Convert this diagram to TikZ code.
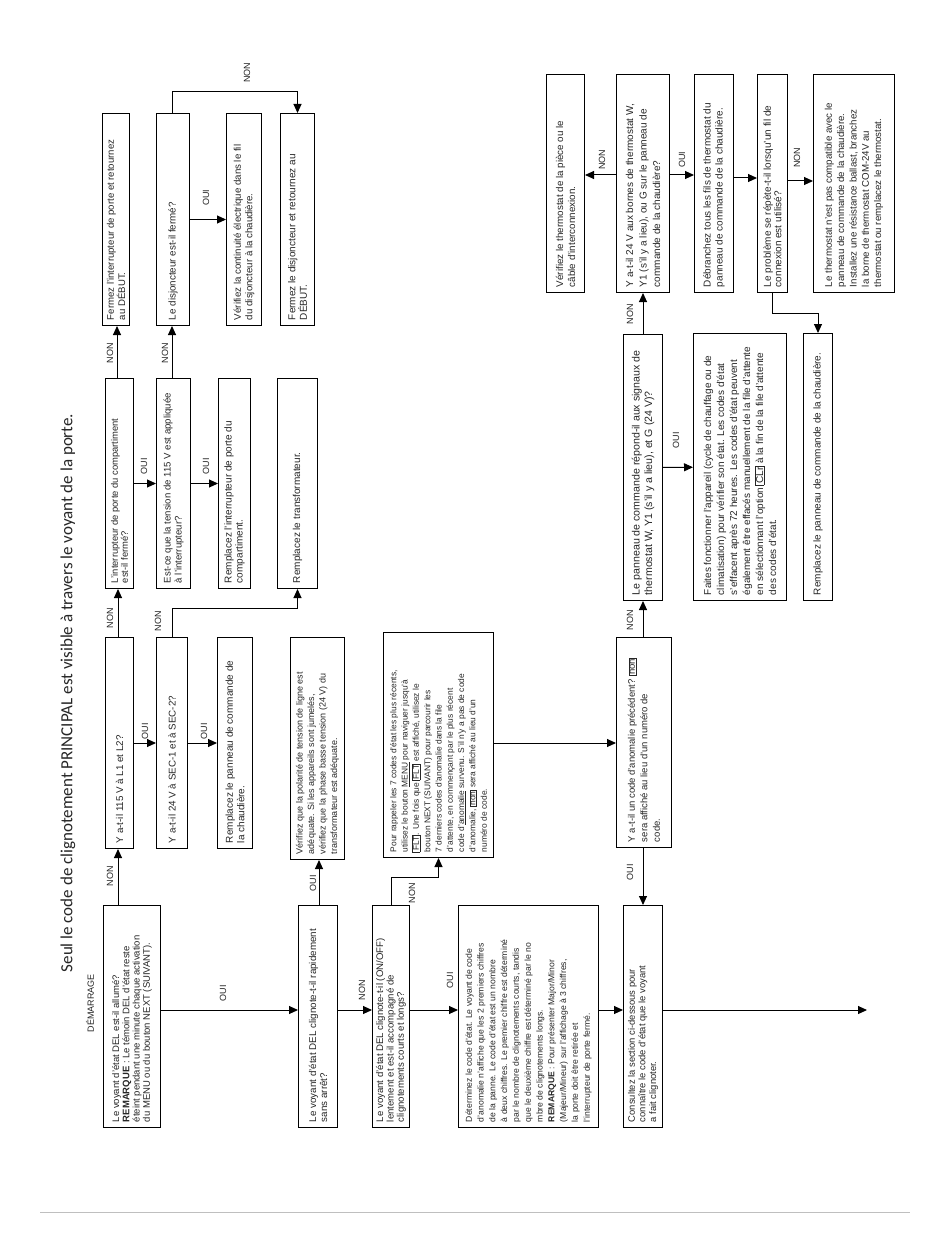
\documentclass[tikz,border=0pt]{standalone}
\usepackage{fontspec}
\setmainfont{Liberation Sans}
\newfontfamily\titlefont{Carlito}
\usetikzlibrary{arrows.meta}
\newcommand{\fl}[1]{{\setlength{\fboxsep}{0.8pt}\setlength{\fboxrule}{0.4pt}\fbox{#1}}}
\newcommand{\fsz}[2]{\fontsize{#1}{#2}\selectfont}
\newcommand{\bx}[7][]{%
  \pgfmathsetmacro{\bxW}{#5-#3}%
  \pgfmathsetmacro{\bxH}{#6-#4}%
  \pgfmathsetmacro{\bxT}{#6-#4-11}%
  \node[box,#1,minimum width=\bxW pt,minimum height=\bxH pt,anchor=north west] (#2) at (#3,#4)
    {\rotatebox{90}{\parbox{\bxT pt}{\raggedright #7}}};}
\tikzset{
  box/.style={draw, line width=1pt, inner sep=0pt, text=black!85, font=\fsz{9.8}{12}},
  arr/.style={line width=1pt, -{Triangle[length=9pt,width=8pt]}},
  lbl/.style={rotate=90, inner sep=0pt, text=black!85, font=\fsz{9}{10}},
}
\begin{document}
\begin{tikzpicture}[x=1pt, y=-1pt]
\useasboundingbox (0,0) rectangle (950,1241);
\fill[white] (0,0) rectangle (950,1241);

% title and start
\node[rotate=90, inner sep=0pt, font=\titlefont\fsz{17}{20}, text=black!85] (title) at (68,693)
  {Seul le code de clignotement PRINCIPAL est visible à travers le voyant de la porte.};
\node[lbl] (start) at (90,1003) {DÉMARRAGE};

% level coordinates
\coordinate (h1010) at (0,1010);
\coordinate (h743) at (0,743);
\coordinate (h175) at (0,175);
\coordinate (h178) at (0,178);
\coordinate (h181) at (0,181);
\coordinate (x118) at (118,0);
\coordinate (x117) at (117,0);
\coordinate (x172) at (172,0);
\coordinate (x319) at (319,0);
\coordinate (x643) at (643,0);
\coordinate (fin) at (867,1010);

% lower row
\bx[font=\fsz{9.5}{10.3}]{a1}{103}{905}{160}{1127}{Le voyant d'état DEL est-il allumé?\\\textbf{REMARQUE} : Le témoin DEL d'état reste\\éteint pendant une minute chaque activation\\du MENU ou du bouton NEXT (SUIVANT).}
\bx[font=\fsz{9.8}{11}]{rapide}{298}{905}{337}{1127}{Le voyant d'état DEL clignote-t-il rapidement\\sans arrêt?}
\bx[font=\fsz{9.6}{10.3}]{lent}{372}{905}{409}{1127}{Le voyant d'état DEL clignote-t-il (ON/OFF)\\lentement et est-il accompagné de\\clignotements courts et longs?}
\bx[font=\fsz{8.6}{11.8}]{determ}{458}{905}{598}{1127}{Déterminez le code d'état. Le voyant de code\\d'anomalie n'affiche que les 2 premiers chiffres\\de la panne. Le code d'état est un nombre\\à deux chiffres. Le premier chiffre est déterminé\\par le nombre de clignotements courts, tandis\\que le deuxième chiffre est déterminé par le no\\mbre de clignotements longs.\\\textbf{REMARQUE} : Pour présenter Major/Minor\\(Majeur/Mineur) sur l'affichage à 3 chiffres,\\la porte doit être retirée et\\l'interrupteur de porte fermé.}
\bx[font=\fsz{9.4}{10.6}]{consult}{623}{905}{662}{1127}{Consultez la section ci-dessous pour\\connaître le code d'état que le voyant\\a fait clignoter.}

% middle row
\bx{v115}{105}{637}{133}{848}{Y a-t-il 115 V à L1 et L2?}
\bx{v24}{156}{637}{187}{848}{Y a-t-il 24 V à SEC-1 et à SEC-2?}
\bx[font=\fsz{10}{11.5}]{rpan}{217}{637}{252}{848}{Remplacez le panneau de commande de\\la chaudière.}
\bx[font=\fsz{9}{11.5}]{polar}{290}{637}{344}{859}{Vérifiez que la polarité de tension de ligne est\\adéquate. Si les appareils sont jumelés,\\vérifiez que la phase basse tension (24 V) du\\transformateur est adéquate.}
\bx[font=\fsz{8.4}{11.3}]{rappel}{383}{632}{493}{857}{Pour rappeler les 7 codes d'état les plus récents,\\utilisez le bouton \underline{MENU} pour naviguer jusqu'à\\\fl{FLT}. Une fois que \fl{FLT} est affiché, utilisez le\\bouton NEXT (SUIVANT) pour parcourir les\\7 derniers codes d'anomalie dans la file\\d'attente, en commençant par le plus récent\\code d'\underline{anomalie} survenu. S'il n'y a pas de code\\d'anomalie, \fl{non} sera affiché au lieu d'un\\numéro de code.}
\bx[font=\fsz{9.5}{12.5}]{anom}{616}{637}{671}{847}{Y a-t-il un code d'anomalie précédent? \fl{non}\\sera affiché au lieu d'un numéro de\\code.}

% upper middle row
\bx[font=\fsz{9.4}{10}]{inter}{105}{378}{133}{588}{L'interrupteur de porte du compartiment\\est-il fermé?}
\bx[font=\fsz{9.6}{11}]{tens}{156}{378}{190}{588}{Est-ce que la tension de 115 V est appliquée\\à l'interrupteur?}
\bx[font=\fsz{10}{11}]{rinter}{218}{378}{250}{588}{Remplacez l'interrupteur de porte du\\compartiment.}
\bx[font=\fsz{10}{11}]{rtrans}{277}{378}{317}{588}{Remplacez le transformateur.}

% top row
\bx[font=\fsz{9.6}{10}]{fint}{102}{113}{129}{325}{Fermez l'interrupteur de porte et retournez\\au DÉBUT.}
\bx{disj}{156}{113}{189}{325}{Le disjoncteur est-il fermé?}
\bx[font=\fsz{9.7}{11.5}]{cont}{226}{113}{261}{325}{Vérifiez la continuité électrique dans le fil\\du disjoncteur à la chaudière.}
\bx[font=\fsz{10}{11.5}]{fdisj}{280}{113}{314}{325}{Fermez le disjoncteur et retournez au\\DÉBUT.}

% right middle
\bx[font=\fsz{10.6}{12.5}]{pan}{623}{334}{662}{600}{Le panneau de commande répond-il aux signaux de\\thermostat W, Y1 (s'il y a lieu), et G (24 V)?}
\bx[font=\fsz{10}{13}]{faites}{693}{333}{786}{600}{Faites fonctionner l'appareil (cycle de chauffage ou de\\climatisation) pour vérifier son état. Les codes d'état\\s'effacent après 72 heures. Les codes d'état peuvent\\également être effacés manuellement de la file d'attente\\en sélectionnant l'option \fl{CLr} à la fin de la file d'attente\\des codes d'état.}
\bx[font=\fsz{10}{12}]{rpan2}{803}{333}{832}{600}{Remplacez le panneau de commande de la chaudière.}

% top right
\bx[font=\fsz{9.8}{12}]{vtherm}{546}{74}{584}{292}{Vérifiez le thermostat de la pièce ou le\\câble d'interconnexion.}
\bx[font=\fsz{10}{13.5}]{y24}{616}{74}{669}{292}{Y a-t-il 24 V aux bornes de thermostat W,\\Y1 (s'il y a lieu), ou G sur le panneau de\\commande de la chaudière?}
\bx[font=\fsz{10}{12}]{debr}{694}{74}{733}{292}{Débranchez tous les fils de thermostat du\\panneau de commande de la chaudière.}
\bx[font=\fsz{10}{10.5}]{probl}{757}{74}{787}{292}{Le problème se répète-t-il lorsqu'un fil de\\connexion est utilisé?}
\bx[font=\fsz{9.7}{12.3}]{therm}{813}{74}{894}{292}{Le thermostat n'est pas compatible avec le\\panneau de commande de la chaudière.\\Installez une résistance ballast, branchez\\la borne de thermostat COM-24V au\\thermostat ou remplacez le thermostat.}

% connectors
\draw[arr] (a1.north -| x118) -- (v115.south -| x118);
\draw[arr] (v115) -- (v24);
\draw[arr] (v24) -- (rpan);
\draw[arr] (v115.north -| x118) -- (inter.south -| x118);
\draw[arr] (inter.north -| x117) -- (fint.south -| x117);
\draw[arr] (inter) -- (tens);
\draw[arr] (tens.north -| x172) -- (disj.south -| x172);
\draw[arr] (tens) -- (rinter);
\draw[arr] (v24.north -| x172) -- ++(0,-29) -| (rtrans.south);
\draw[arr] (disj.north -| x172) -- ++(0,-21) -| (fdisj.north);
\draw[arr] (disj) -- (cont);
\draw[arr] (a1.east |- h1010) -- (rapide.west |- h1010);
\draw[arr] (rapide.north -| x319) -- (polar.south -| x319);
\draw[arr] (rapide.east |- h1010) -- (lent.west |- h1010);
\draw[arr] (lent.north) -- ++(0,-28) -| (rappel.south);
\draw[arr] (lent.east |- h1010) -- (determ.west |- h1010);
\draw[arr] (determ.east |- h1010) -- (consult.west |- h1010);
\draw[arr] (rappel.east |- h743) -- (anom.west |- h743);
\draw[arr] (anom.south -| x643) -- (consult.north -| x643);
\draw[arr] (anom.north -| x643) -- (pan.south -| x643);
\draw[arr] (consult.east |- h1010) -- (fin);
\draw[arr] (pan.north -| x643) -- (y24.south -| x643);
\draw[arr] (pan) -- (faites);
\draw[arr] (y24.west |- h175) -- (vtherm.east |- h175);
\draw[arr] (y24.east |- h175) -- (debr.west |- h175);
\draw[arr] (debr.east |- h178) -- (probl.west |- h178);
\draw[arr] (probl.east |- h181) -- (therm.west |- h181);
\draw[arr] (probl.south) -- ++(0,20) -| (rpan2.north);

% labels
\node[lbl] (l1) at (110,876) {NON};
\node[lbl] (l2) at (145,731) {OUI};
\node[lbl] (l3) at (204,731) {OUI};
\node[lbl] (l4) at (110,618) {NON};
\node[lbl] (l5) at (110,353) {NON};
\node[lbl] (l6) at (144,466) {OUI};
\node[lbl] (l7) at (206,466) {OUI};
\node[lbl] (l8) at (165,353) {NON};
\node[lbl] (l9) at (158,621) {NON};
\node[lbl] (l10) at (247,73) {NON};
\node[lbl] (l11) at (206,198) {OUI};
\node[lbl] (l12) at (223,993) {OUI};
\node[lbl] (l13) at (313,883) {OUI};
\node[lbl] (l14) at (362,990) {NON};
\node[lbl] (l15) at (412,893) {NON};
\node[lbl] (l16) at (450,980) {OUI};
\node[lbl] (l17) at (630,872) {OUI};
\node[lbl] (l18) at (630,620) {NON};
\node[lbl] (l19) at (630,314) {NON};
\node[lbl] (l20) at (676,440) {OUI};
\node[lbl] (l21) at (602,160) {NON};
\node[lbl] (l22) at (682,160) {OUI};
\node[lbl] (l23) at (797,158) {NON};

% footer rule
\draw[black!25, line width=0.8pt] (40,1212) -- (910,1212);
\end{tikzpicture}
\end{document}
